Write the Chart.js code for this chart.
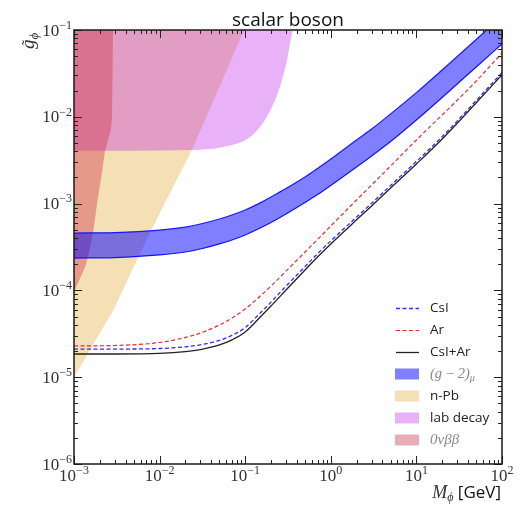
<!DOCTYPE html>
<html>
<head>
<meta charset="utf-8">
<script src="https://cdn.jsdelivr.net/npm/chart.js@4.4.1/dist/chart.umd.min.js"></script>
<style>
  html, body { margin: 0; padding: 0; background: #ffffff; }
  canvas { display: block; }
</style>
</head>
<body>
<canvas id="chart" width="524" height="508"></canvas>
<script>
// Mediator mass grid (GeV) shared by the limit curves and the (g-2) band
const massGrid = [1e-3, 3e-3, 1e-2, 2e-2, 3e-2, 5e-2, 7e-2, 0.1, 0.15, 0.2, 0.3, 0.5, 0.7, 1, 2, 3, 5, 10, 20, 50, 100];

// Coupling limits from the CEvNS fits
const csiLimit      = [2.11e-5, 2.11e-5, 2.14e-5, 2.24e-5, 2.36e-5, 2.66e-5, 3.03e-5, 3.72e-5, 5.5e-5, 7.33e-5, 1.12e-4, 1.88e-4, 2.65e-4, 3.72e-4, 7.0e-4, 1.01e-3, 1.62e-3, 3.06e-3, 5.9e-3, 1.54e-2, 3.23e-2];
const arLimit       = [2.29e-5, 2.32e-5, 2.51e-5, 2.87e-5, 3.23e-5, 3.99e-5, 4.81e-5, 6.1e-5, 8.62e-5, 1.12e-4, 1.67e-4, 2.77e-4, 3.86e-4, 5.52e-4, 1.1e-3, 1.64e-3, 2.71e-3, 5.41e-3, 1.05e-2, 2.58e-2, 5.43e-2];
const combinedLimit = [1.85e-5, 1.85e-5, 1.88e-5, 1.97e-5, 2.08e-5, 2.35e-5, 2.69e-5, 3.32e-5, 4.94e-5, 6.61e-5, 1.01e-4, 1.72e-4, 2.43e-4, 3.43e-4, 6.5e-4, 9.4e-4, 1.51e-3, 2.86e-3, 5.55e-3, 1.45e-2, 3.05e-2];

// (g-2)_mu preferred band
const gm2Lower = [2.36e-4, 2.39e-4, 2.56e-4, 2.77e-4, 3.0e-4, 3.43e-4, 3.81e-4, 4.35e-4, 5.24e-4, 6.05e-4, 7.59e-4, 1.03e-3, 1.27e-3, 1.62e-3, 2.64e-3, 3.54e-3, 5.19e-3, 9.18e-3, 1.67e-2, 3.75e-2, 6.9e-2];
const gm2Upper = [4.58e-4, 4.64e-4, 4.96e-4, 5.37e-4, 5.82e-4, 6.65e-4, 7.4e-4, 8.44e-4, 1.02e-3, 1.19e-3, 1.49e-3, 2.02e-3, 2.54e-3, 3.26e-3, 5.41e-3, 7.23e-3, 1.08e-2, 1.9e-2, 3.46e-2, 7.78e-2, 0.145];

// Excluded regions: lower boundary of each, filled up to the top of the plot
const nPbMass      = [1e-3, 2.9e-3, 7.7e-3, 2.4e-2, 9.7e-2];
const nPbCoupling  = [1e-5, 6e-5, 4.6e-4, 4.2e-3, 0.1];
const labDecayMass     = [1e-3, 2.4e-2, 5.5e-2, 0.114, 0.17, 0.223, 0.269, 0.308, 0.352, 0.36];
const labDecayCoupling = [4.05e-3, 4.15e-3, 4.5e-3, 5.85e-3, 9.2e-3, 1.56e-2, 2.66e-2, 4.5e-2, 9.2e-2, 0.1];
const bbMass     = [1e-3, 1.05e-3, 1.35e-3, 1.46e-3, 1.67e-3, 1.86e-3, 2.12e-3, 2.3e-3, 2.7e-3, 2.78e-3, 2.86e-3];
const bbCoupling = [9.6e-5, 1.07e-4, 1.86e-4, 2.43e-4, 4.58e-4, 1e-3, 2.25e-3, 4.04e-3, 7.05e-3, 1e-2, 0.1];

// Axis decades and their exponent labels
const xDecades = [1e-3, 1e-2, 1e-1, 1, 10, 100];
const xTickExponents = ['\u22123', '\u22122', '\u22121', '0', '1', '2'];
const yDecades = [1e-6, 1e-5, 1e-4, 1e-3, 1e-2, 1e-1];
const yTickExponents = ['\u22126', '\u22125', '\u22124', '\u22123', '\u22122', '\u22121'];

const titleText = 'scalar boson';
const legendLabels = ['CsI', 'Ar', 'CsI+Ar', '(g\u2009\u2212\u20092)', 'n-Pb', 'lab decay', '0\u03BD\u03B2\u03B2'];

const SERIF = '"Liberation Serif", "DejaVu Serif", serif';
const SANS = '"Open Sans", "DejaVu Sans", sans-serif';

const pairs = (xs, ys) => xs.map((x, i) => ({ x: x, y: ys[i] }));

function logTicks(lo, hi) {
  const t = [];
  for (let e = lo; e < hi; e++) {
    for (let m = 1; m < 10; m++) t.push({ value: m * Math.pow(10, e) });
  }
  t.push({ value: Math.pow(10, hi) });
  return t;
}
const isDecade = v => Math.abs(Math.log10(v) - Math.round(Math.log10(v))) < 1e-9;

function runsWidth(ctx, runs) {
  let w = 0;
  for (const r of runs) { ctx.font = r.font; w += ctx.measureText(r.text).width; }
  return w;
}
function drawRuns(ctx, x, y, runs) {
  for (const r of runs) {
    ctx.font = r.font;
    ctx.fillStyle = r.color;
    ctx.fillText(r.text, x, y + (r.dy || 0));
    x += ctx.measureText(r.text).width;
  }
  return x;
}
function tickRuns(exp) {
  return [
    { text: '10', font: '17px ' + SERIF, color: '#333' },
    { text: exp, font: '12px ' + SERIF, color: '#333', dy: -6.8 }
  ];
}

// Frame, inward ticks on all sides, tick labels, titles and legend
const decor = {
  id: 'decor',
  afterDatasetsDraw(chart) {
    const { ctx, chartArea: a, scales: { x, y } } = chart;
    const ds = chart.data.datasets;
    ctx.save();

    // tick marks
    ctx.strokeStyle = '#222';
    ctx.lineWidth = 1;
    ctx.beginPath();
    x.ticks.forEach(t => {
      const p = Math.round(x.getPixelForValue(t.value)) + 0.5;
      const len = isDecade(t.value) ? 8 : 4;
      ctx.moveTo(p, a.bottom); ctx.lineTo(p, a.bottom - len);
      ctx.moveTo(p, a.top); ctx.lineTo(p, a.top + len);
    });
    y.ticks.forEach(t => {
      const p = Math.round(y.getPixelForValue(t.value)) + 0.5;
      const len = isDecade(t.value) ? 8 : 4;
      ctx.moveTo(a.left, p); ctx.lineTo(a.left + len, p);
      ctx.moveTo(a.right, p); ctx.lineTo(a.right - len, p);
    });
    ctx.stroke();

    // frame
    ctx.lineWidth = 1.5;
    ctx.strokeStyle = '#1a1a1a';
    ctx.strokeRect(a.left, a.top, a.right - a.left, a.bottom - a.top);

    // tick labels
    ctx.textAlign = 'left';
    ctx.textBaseline = 'alphabetic';
    xDecades.forEach((v, i) => {
      const runs = tickRuns(xTickExponents[i]);
      const w = runsWidth(ctx, runs);
      const p = x.getPixelForValue(v);
      drawRuns(ctx, p - w / 2, a.bottom + 17, runs);
    });
    yDecades.forEach((v, i) => {
      const runs = tickRuns(yTickExponents[i]);
      const w = runsWidth(ctx, runs);
      const p = y.getPixelForValue(v);
      drawRuns(ctx, a.left - 2 - w, p + 5.5, runs);
    });

    // title
    ctx.font = '19px ' + SANS;
    ctx.fillStyle = '#111';
    ctx.textAlign = 'center';
    ctx.fillText(titleText, (a.left + a.right) / 2, 26);
    ctx.textAlign = 'left';

    // x-axis title: M_phi [GeV]
    const xt = [
      { text: 'M', font: 'italic 18px ' + SERIF, color: '#333' },
      { text: '\u03D5', font: 'italic 12px ' + SERIF, color: '#333', dy: 3 },
      { text: ' [GeV]', font: '17px ' + SANS, color: '#111' }
    ];
    drawRuns(ctx, a.right - 1 - runsWidth(ctx, xt), 498, xt);

    // y-axis title: g-tilde_phi, rotated
    ctx.save();
    ctx.translate(34, 49);
    ctx.rotate(-Math.PI / 2);
    ctx.font = 'italic 19px ' + SERIF;
    const gw = ctx.measureText('g').width;
    ctx.fillStyle = '#333';
    ctx.fillText('g', 0, 0);
    ctx.font = '16px ' + SERIF;
    const tw = ctx.measureText('\u02DC').width;
    ctx.fillText('\u02DC', gw / 2 - tw / 2 + 1.5, -1);
    ctx.font = 'italic 13px ' + SERIF;
    ctx.fillText('\u03D5', gw, 4);
    ctx.restore();

    // legend
    const rowY = [308, 330, 352, 374, 396, 418, 440];
    const handles = [1, 2, 0, 4, 7, 6, 5];
    const kinds = ['line', 'line', 'line', 'box', 'box', 'box', 'box'];
    rowY.forEach((ry, i) => {
      const d = ds[handles[i]];
      if (kinds[i] === 'line') {
        ctx.save();
        ctx.strokeStyle = d.borderColor;
        ctx.lineWidth = d.borderWidth;
        ctx.setLineDash(d.borderDash || []);
        ctx.beginPath();
        ctx.moveTo(396, ry + 0.5); ctx.lineTo(419, ry + 0.5);
        ctx.stroke();
        ctx.restore();
      } else {
        ctx.fillStyle = d.backgroundColor;
        ctx.fillRect(395, ry - 5.5, 24, 11);
      }
      ctx.textBaseline = 'middle';
      if (i === 3) {
        drawRuns(ctx, 430, ry, [
          { text: legendLabels[i], font: 'italic 14.5px ' + SERIF, color: '#888' },
          { text: '\u03BC', font: 'italic 10px ' + SERIF, color: '#888', dy: 4 }
        ]);
      } else if (i === 6) {
        drawRuns(ctx, 430, ry, [{ text: legendLabels[i], font: 'italic 15px ' + SERIF, color: '#888' }]);
      } else {
        drawRuns(ctx, 430, ry, [{ text: legendLabels[i], font: '13.5px ' + SANS, color: '#222' }]);
      }
    });
    ctx.restore();
  }
};

const lineCommon = { showLine: true, pointRadius: 0, cubicInterpolationMode: 'monotone', fill: false };

new Chart(document.getElementById('chart'), {
  type: 'scatter',
  data: {
    datasets: [
      Object.assign({ label: 'CsI+Ar', data: pairs(massGrid, combinedLimit), borderColor: '#222222', borderWidth: 1.3, order: 1 }, lineCommon),
      Object.assign({ label: 'CsI', data: pairs(massGrid, csiLimit), borderColor: 'rgb(45,45,255)', borderWidth: 1.3, borderDash: [4, 2.5], order: 2 }, lineCommon),
      Object.assign({ label: 'Ar', data: pairs(massGrid, arLimit), borderColor: 'rgb(232,45,45)', borderWidth: 1.2, borderDash: [4, 2.5], order: 3 }, lineCommon),
      Object.assign({ label: 'g-2 lower', data: pairs(massGrid, gm2Lower), borderColor: 'rgb(25,25,255)', borderWidth: 1.2, order: 5 }, lineCommon),
      Object.assign({}, lineCommon, { label: '(g-2)', data: pairs(massGrid, gm2Upper), borderColor: 'rgb(25,25,255)', borderWidth: 1.2, backgroundColor: 'rgba(0,0,255,0.5)', fill: { target: 3 }, order: 4 }),
      { label: '0vbb', data: pairs(bbMass, bbCoupling), showLine: true, pointRadius: 0, tension: 0, borderColor: 'rgba(0,0,0,0)', borderWidth: 1, backgroundColor: 'rgba(205,50,70,0.4)', fill: 'end', order: 6 },
      { label: 'lab decay', data: pairs(labDecayMass, labDecayCoupling), showLine: true, pointRadius: 0, cubicInterpolationMode: 'monotone', borderColor: 'rgba(0,0,0,0)', borderWidth: 1, backgroundColor: 'rgba(182,0,232,0.3)', fill: 'end', order: 7 },
      { label: 'n-Pb', data: pairs(nPbMass, nPbCoupling), showLine: true, pointRadius: 0, tension: 0, borderColor: 'rgba(0,0,0,0)', borderWidth: 1, backgroundColor: 'rgba(225,160,30,0.33)', fill: 'end', order: 8 }
    ]
  },
  options: {
    responsive: false,
    animation: false,
    devicePixelRatio: 1,
    layout: { padding: { top: 30, right: 22, left: 0, bottom: 0 } },
    plugins: { legend: { display: false }, title: { display: false }, tooltip: { enabled: false } },
    scales: {
      x: {
        type: 'logarithmic', position: 'bottom', min: 1e-3, max: 100,
        afterFit(s) { s.height = 44; },
        afterBuildTicks(s) { s.ticks = logTicks(-3, 2); },
        ticks: { display: false },
        grid: { display: false, drawTicks: false },
        border: { display: false }
      },
      y: {
        type: 'logarithmic', position: 'left', min: 1e-6, max: 1e-1,
        afterFit(s) { s.width = 74; },
        afterBuildTicks(s) { s.ticks = logTicks(-6, -1); },
        ticks: { display: false },
        grid: { display: false, drawTicks: false },
        border: { display: false }
      }
    }
  },
  plugins: [decor]
});
</script>
</body>
</html>
